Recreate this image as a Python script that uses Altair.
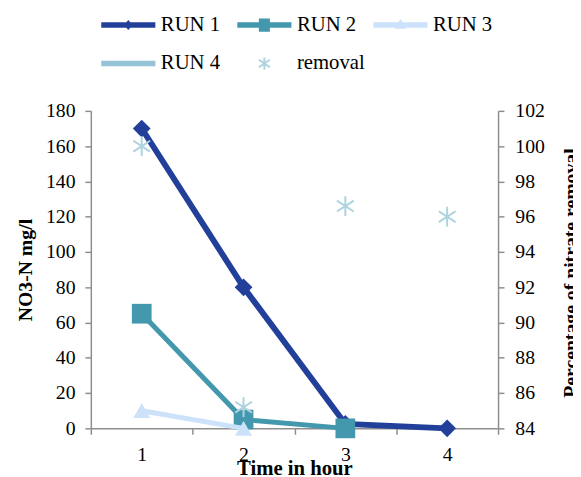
import math
import altair as alt
import pandas as pd

# ---- data ----
time = [1, 2, 3, 4]
run1 = [170, 80, 2.5, 0]
run2 = [65, 5, 0, None]
run3 = [10, 0, None, None]
run4 = [None, None, None, None]
removal = [100, 85.2, 96.6, 96.0]

series = ["RUN 1", "RUN 2", "RUN 3", "RUN 4", "removal"]
colors = ["#22409A", "#4398AE", "#CCE2FA", "#94C3D6", "#ADD3DF"]

rows = []
for name, vals in zip(series[:4], [run1, run2, run3, run4]):
    for t, v in zip(time, vals):
        if v is not None:
            rows.append({"time": t, "value": v, "series": name})
runs_df = pd.DataFrame(rows)
rem_df = pd.DataFrame({"time": time, "removal": removal, "series": ["removal"] * 4})
legend_df = pd.DataFrame({"series": series})

FONT = "Liberation Serif"
AXIS_GREY = "#8E8E8E"

# colour scale for the drawn marks (series that have data)
drawn = [s for s in series if s != "RUN 4"]
drawn_colors = [c for s, c in zip(series, colors) if s != "RUN 4"]
color_scale = alt.Scale(domain=drawn, range=drawn_colors)


# ---- legend symbol paths (unit square -1..1) ----
def rect(x0, y0, x1, y1):
    return f"M{x0},{y0}L{x1},{y0}L{x1},{y1}L{x0},{y1}Z"


def bar(angle_deg, half_len, half_w):
    a = math.radians(angle_deg)
    ca, sa = math.cos(a), math.sin(a)
    pts = [(-half_len, -half_w), (half_len, -half_w), (half_len, half_w), (-half_len, half_w)]
    rp = [(px * ca - py * sa, px * sa + py * ca) for px, py in pts]
    return "M" + "L".join(f"{x:.3f},{y:.3f}" for x, y in rp) + "Z"


line_path = rect(-0.98, -0.1, 0.98, 0.1)
leg_paths = [
    line_path + "M0,-0.18L0.16,0L0,0.18L-0.16,0Z",
    line_path + rect(-0.2, -0.24, 0.2, 0.24),
    line_path + "M0,-0.22L0.2,0.13L-0.2,0.13Z",
    line_path,
    bar(90, 0.22, 0.035) + bar(35, 0.24, 0.035) + bar(-35, 0.24, 0.035),
]

asterisk = "M0,-1L0,1M-0.85,-0.55L0.85,0.55M-0.85,0.55L0.85,-0.55"

x_enc = alt.X(
    "time:O",
    scale=alt.Scale(type="band", paddingInner=0, paddingOuter=0),
    axis=alt.Axis(
        title="Time in hour",
        labelAngle=0,
        tickBand="extent",
        labelPadding=11,
        titleY=47,
        titleFontSize=21,
        titleBaseline="alphabetic",
    ),
)

y_left = alt.Y(
    "value:Q",
    scale=alt.Scale(domain=[0, 180], nice=False),
    axis=alt.Axis(values=list(range(0, 181, 20)), title="NO3-N mg/l",
                  labelPadding=10, titlePadding=10),
)

markers = {"RUN 1": ("diamond", 324), "RUN 2": ("square", 400), "RUN 3": ("triangle-up", 300)}
widths = {"RUN 1": 6, "RUN 2": 5, "RUN 3": 5}

left_layers = []
for s in ["RUN 1", "RUN 2", "RUN 3"]:
    base = alt.Chart(runs_df).transform_filter(alt.datum.series == s)
    left_layers.append(
        base.mark_line(strokeWidth=widths[s]).encode(
            x=x_enc, y=y_left, color=alt.Color("series:N", scale=color_scale, legend=None)
        )
    )
    shp, sz = markers[s]
    left_layers.append(
        base.mark_point(shape=shp, size=sz, filled=True, opacity=1).encode(
            x=x_enc, y=y_left, color=alt.Color("series:N", scale=color_scale, legend=None)
        )
    )
left = alt.layer(*left_layers)

right = alt.Chart(rem_df).mark_point(
    shape=asterisk, size=400, filled=False, strokeWidth=2, opacity=1
).encode(
    x=x_enc,
    y=alt.Y(
        "removal:Q",
        scale=alt.Scale(domain=[84, 102], nice=False, zero=False),
        axis=alt.Axis(
            orient="right",
            values=list(range(84, 103, 2)),
            labelPadding=11,
            title="Percentage of nitrate removal",
            titleAngle=270,
            titleX=80,
            titleY=164,
            titleAlign="center",
            titleBaseline="alphabetic",
        ),
    ),
    color=alt.Color("series:N", scale=color_scale, legend=None),
)

leg = alt.Legend(
    title=None,
    orient="none",
    direction="horizontal",
    legendX=10,
    legendY=-115,
    columns=3,
    gridAlign="all",
    symbolSize=3136,
    symbolStrokeWidth=0,
    labelFont=FONT,
    labelFontSize=21,
    labelColor="black",
    labelOffset=5,
    columnPadding=8,
    rowPadding=1,
    padding=0,
)

legend_layer = alt.Chart(legend_df).transform_filter("false").mark_point(
    filled=True, opacity=1
).encode(
    fill=alt.Fill("series:N", scale=alt.Scale(domain=series, range=colors), legend=leg),
    shape=alt.Shape("series:N", scale=alt.Scale(domain=series, range=leg_paths), legend=leg),
)

chart = (
    alt.layer(left, right, legend_layer)
    .resolve_scale(y="independent")
    .properties(
        width=413,
        height=322,
        autosize=alt.AutoSizeParams(type="none"),
        padding={"left": 84, "top": 101, "right": 76, "bottom": 46},
    )
    .configure_view(stroke=None)
    .configure_axis(
        grid=False,
        domainColor=AXIS_GREY,
        domainWidth=1.5,
        tickColor=AXIS_GREY,
        tickWidth=1.5,
        tickSize=6,
        labelFont=FONT,
        labelFontSize=20,
        labelColor="black",
        labelPadding=8,
        titleFont=FONT,
        titleFontSize=20,
        titleFontWeight="bold",
        titleColor="black",
    )
)

chart.save("out.html", embed_options={"renderer": "svg", "actions": False})
